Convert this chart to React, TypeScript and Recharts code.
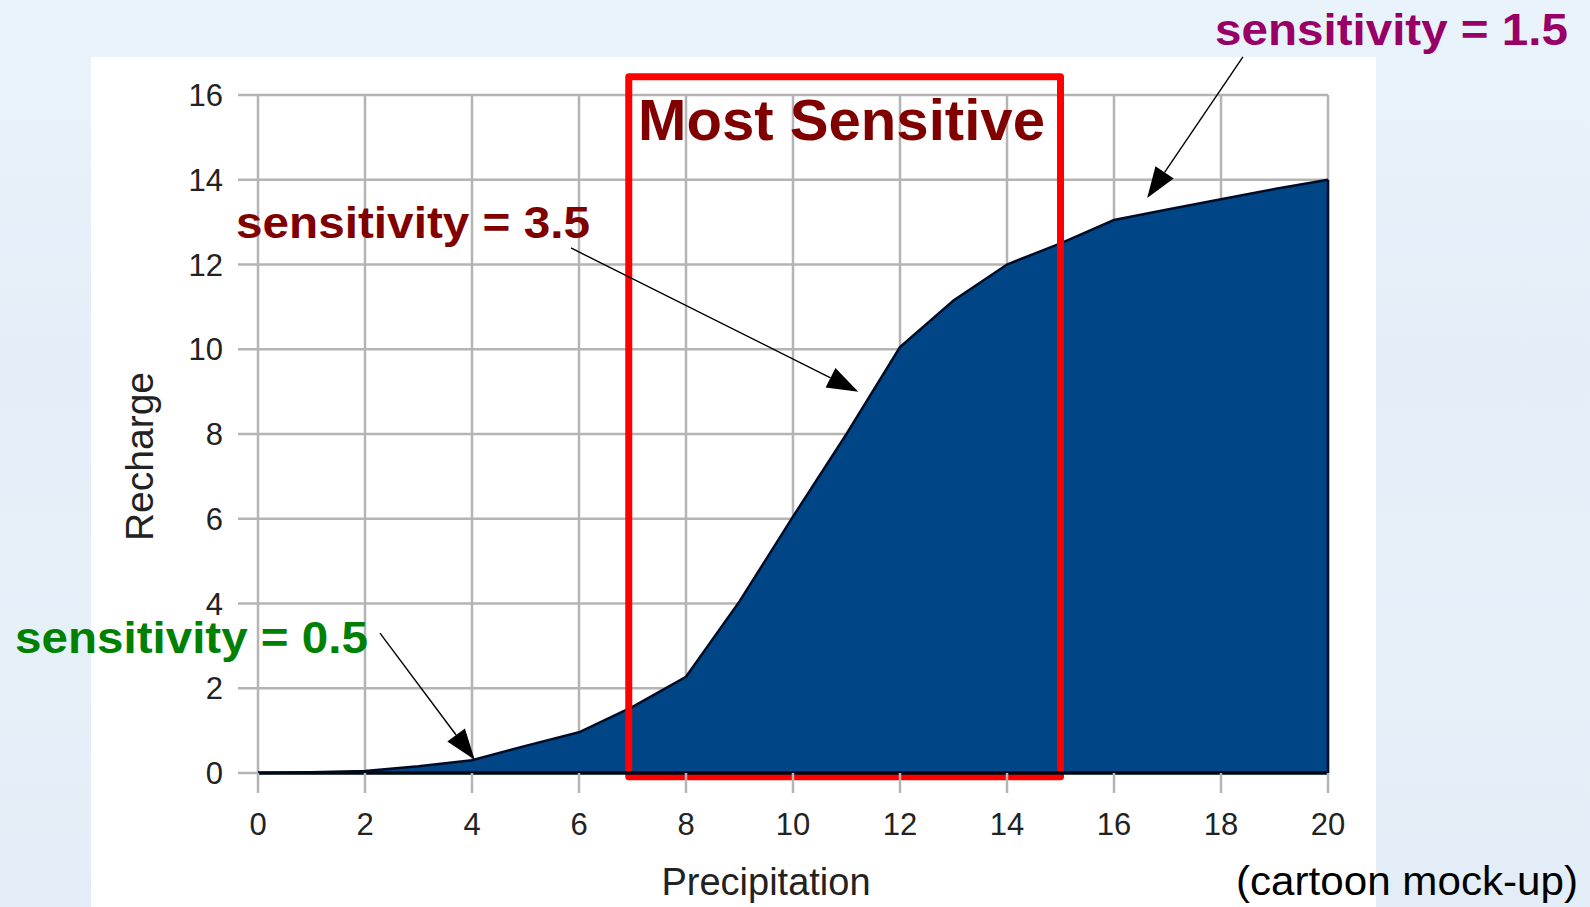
import React from 'react';
import { AreaChart, Area, XAxis, YAxis, CartesianGrid, ReferenceArea, ReferenceLine } from 'recharts';

const precipitation = [0, 1, 2, 3, 4, 5, 6, 7, 8, 9, 10, 11, 12, 13, 14, 15, 16, 17, 18, 19, 20];
const recharge = [0, 0.02, 0.05, 0.16, 0.3, 0.64, 0.96, 1.56, 2.27, 4.05, 6.05, 8.0, 10.05, 11.15, 12.0, 12.5, 13.05, 13.3, 13.54, 13.78, 14.0];
const xTicks = [0, 2, 4, 6, 8, 10, 12, 14, 16, 18, 20];
const yTicks = [0, 2, 4, 6, 8, 10, 12, 14, 16];

// "Most Sensitive" window (precipitation range) and its recharge span
const sensitiveRange = [6.93, 15.0];
const sensitiveSpan = [-0.09, 16.43];

// annotation arrows in data coordinates: [fromX, fromY, toX, toY]
const arrowLow = [2.28, 3.3, 4.05, 0.31];
const arrowMid = [5.85, 12.39, 11.22, 9.0];
const arrowHigh = [18.41, 16.9, 16.62, 13.57];

const data = precipitation.map((p, i) => ({ precipitation: p, recharge: recharge[i] }));

const FONT = '"Liberation Sans", Arial, Helvetica, sans-serif';

const ArrowShape = (props: any) => {
  const { x1, y1, x2, y2 } = props;
  const dx = x2 - x1;
  const dy = y2 - y1;
  const len = Math.sqrt(dx * dx + dy * dy) || 1;
  const ux = dx / len;
  const uy = dy / len;
  const headLen = 31;
  const headHalf = 11;
  const bx = x2 - ux * headLen;
  const by = y2 - uy * headLen;
  const px = -uy;
  const py = ux;
  const pts = `${x2},${y2} ${bx + px * headHalf},${by + py * headHalf} ${bx - px * headHalf},${by - py * headHalf}`;
  return (
    <g>
      <line x1={x1} y1={y1} x2={bx} y2={by} stroke="#000" strokeWidth={1.4} />
      <polygon points={pts} fill="#000" />
    </g>
  );
};

export default function App() {
  return (
    <div
      style={{
        position: 'absolute',
        left: 0,
        top: 0,
        width: 1590,
        height: 907,
        overflow: 'hidden',
        background: 'linear-gradient(180deg, #e9f3fb 0%, #e3eef8 40%, #e6f0f9 70%, #e2edf7 100%)',
        fontFamily: FONT,
      }}
    >
      <div style={{ position: 'absolute', left: 91, top: 57, width: 1285, height: 850, background: '#ffffff' }} />
      <div style={{ position: 'absolute', left: 0, top: 0 }}>
        <AreaChart
          width={1590}
          height={907}
          data={data}
          margin={{ top: 95, right: 262, bottom: 74, left: 198 }}
        >
          <CartesianGrid stroke="#b4b4b4" strokeWidth={2.5} />
          <XAxis
            dataKey="precipitation"
            type="number"
            domain={[0, 20]}
            ticks={xTicks}
            height={60}
            axisLine={false}
            tickLine={{ stroke: '#b4b4b4', strokeWidth: 2.5 }}
            tickSize={20}
            tickMargin={20}
            tick={{ fill: '#222', fontSize: 31, fontFamily: FONT }}
            interval={0}
          />
          <YAxis
            type="number"
            domain={[0, 16]}
            ticks={yTicks}
            width={60}
            axisLine={false}
            tickLine={{ stroke: '#b4b4b4', strokeWidth: 2.5 }}
            tickSize={20}
            tickMargin={15}
            tick={{ fill: '#222', fontSize: 31, fontFamily: FONT }}
            interval={0}
          />
          <Area
            type="linear"
            dataKey="recharge"
            fill="#004586"
            fillOpacity={1}
            stroke="#000c26"
            strokeWidth={2.5}
            isAnimationActive={false}
            dot={false}
            activeDot={false}
          />
          <ReferenceLine
            segment={[{ x: 0, y: 0 }, { x: 20, y: 0 }]}
            stroke="#000814"
            strokeWidth={3.5}
            ifOverflow="visible"
          />
          <ReferenceLine
            segment={[{ x: 20, y: 0 }, { x: 20, y: recharge[recharge.length - 1] }]}
            stroke="#000c26"
            strokeWidth={2.5}
            ifOverflow="visible"
          />
          <ReferenceArea
            x1={sensitiveRange[0]}
            x2={sensitiveRange[1]}
            y1={sensitiveSpan[0]}
            y2={sensitiveSpan[1]}
            fill="none"
            fillOpacity={0}
            stroke="#ff0000"
            strokeWidth={7}
            strokeLinejoin="round"
            ifOverflow="visible"
          />
          <ReferenceLine
            segment={[{ x: arrowLow[0], y: arrowLow[1] }, { x: arrowLow[2], y: arrowLow[3] }]}
            ifOverflow="visible"
            shape={ArrowShape}
          />
          <ReferenceLine
            segment={[{ x: arrowMid[0], y: arrowMid[1] }, { x: arrowMid[2], y: arrowMid[3] }]}
            ifOverflow="visible"
            shape={ArrowShape}
          />
          <ReferenceLine
            segment={[{ x: arrowHigh[0], y: arrowHigh[1] }, { x: arrowHigh[2], y: arrowHigh[3] }]}
            ifOverflow="visible"
            shape={ArrowShape}
          />
        </AreaChart>
      </div>
      <svg
        width={1590}
        height={907}
        style={{ position: 'absolute', left: 0, top: 0, pointerEvents: 'none', fontFamily: FONT }}
      >
        <text x={841.5} y={140} textAnchor="middle" fontSize={58} fontWeight="bold" fill="#800000" textLength={407} lengthAdjust="spacingAndGlyphs">
          Most Sensitive
        </text>
        <text x={236} y={237.5} fontSize={45} fontWeight="bold" fill="#800000" textLength={354} lengthAdjust="spacingAndGlyphs">
          sensitivity = 3.5
        </text>
        <text x={1215} y={45} fontSize={45} fontWeight="bold" fill="#990066" textLength={353} lengthAdjust="spacingAndGlyphs">
          sensitivity = 1.5
        </text>
        <text x={15} y={653} fontSize={45} fontWeight="bold" fill="#008000" textLength={353} lengthAdjust="spacingAndGlyphs">
          sensitivity = 0.5
        </text>
        <text x={153} y={456.5} textAnchor="middle" fontSize={39} fill="#222" transform="rotate(-90 153 456.5)">
          Recharge
        </text>
        <text x={766} y={895} textAnchor="middle" fontSize={38} fill="#222">
          Precipitation
        </text>
        <text x={1236} y={895} fontSize={40} fill="#000" textLength={342} lengthAdjust="spacingAndGlyphs">
          (cartoon mock-up)
        </text>
      </svg>
    </div>
  );
}
